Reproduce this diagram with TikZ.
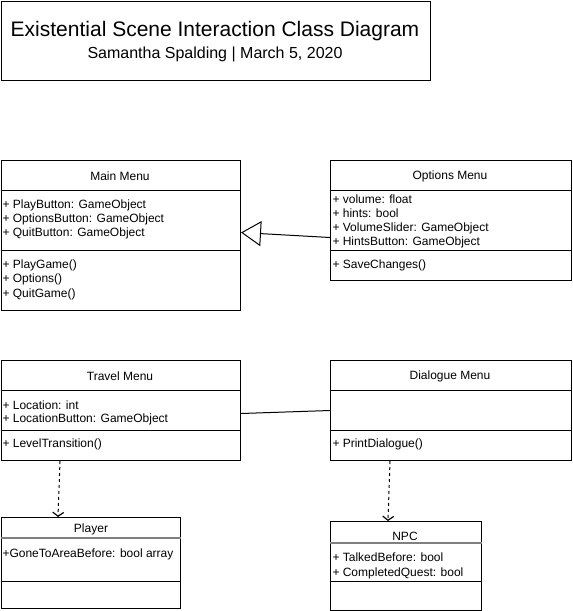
\documentclass[tikz,border=0pt]{standalone}
\usepackage{fontspec}
\setmainfont{Liberation Sans}
\usetikzlibrary{arrows.meta}
\definecolor{hdrgray}{RGB}{128,128,128}
\begin{document}
\begin{tikzpicture}[x=1pt,y=-1pt,line width=1pt,
  box/.style={draw, rectangle, inner sep=0pt, anchor=north west},
  lbl/.style={font=\fontsize{12}{14}\selectfont, inner sep=0pt, anchor=west, yshift=-1pt},
  ttl/.style={font=\fontsize{12}{14}\selectfont, inner sep=0pt, yshift=-1pt},
  dep/.style={dash pattern=on 3pt off 3pt, -{Straight Barb[length=4pt,width=11pt,line width=1.2pt]}},
  gen/.style={-{Triangle[open,length=20pt,width=25pt,fill=white]}},
  sepline/.style={draw},
  grayline/.style={draw=hdrgray, line width=1.6pt},
]
\useasboundingbox (0,0) rectangle (573,611);

% Title
\node[box, minimum width=429pt, minimum height=79pt] (title) at (1,1) {};
\node[inner sep=0pt, font=\fontsize{21}{25}\selectfont] (t1) at (215,31) {Existential Scene Interaction Class Diagram};
\node[inner sep=0pt, font=\fontsize{16}{19}\selectfont] (t2) at (215,54) {Samantha Spalding | March 5, 2020};

% Main Menu
\node[box, minimum width=239pt, minimum height=150pt] (main) at (1,160) {};
\draw[sepline] ([yshift=-30pt]main.north west) -- ([yshift=-30pt]main.north east);
\draw[sepline] ([yshift=-90pt]main.north west) -- ([yshift=-90pt]main.north east);
\node[ttl] (mainT) at (120,175) {Main Menu};
\node[lbl] (m1) at (2,204) {+ PlayButton: GameObject};
\node[lbl] (m2) at (2,218) {+ OptionsButton: GameObject};
\node[lbl] (m3) at (2,232) {+ QuitButton: GameObject};
\node[lbl] (m4) at (2,264) {+ PlayGame()};
\node[lbl] (m5) at (2,278) {+ Options()};
\node[lbl] (m6) at (2,293) {+ QuitGame()};

% Options Menu
\node[box, minimum width=241pt, minimum height=120pt] (opt) at (330,160) {};
\draw[sepline] ([yshift=-30pt]opt.north west) -- ([yshift=-30pt]opt.north east);
\draw[sepline] ([yshift=-90pt]opt.north west) -- ([yshift=-90pt]opt.north east);
\node[ttl] (optT) at (450,175) {Options Menu};
\node[lbl] (o1) at (332,198) {+ volume: float};
\node[lbl] (o2) at (332,212) {+ hints: bool};
\node[lbl] (o3) at (332,227) {+ VolumeSlider: GameObject};
\node[lbl] (o4) at (332,241) {+ HintsButton: GameObject};
\node[lbl] (o5) at (332,264) {+ SaveChanges()};

\draw[gen] ([yshift=-17pt]opt.west) -- ([yshift=3pt]main.east);

% Travel Menu
\node[box, minimum width=239pt, minimum height=100pt] (travel) at (1,360) {};
\draw[sepline] ([yshift=-30pt]travel.north west) -- ([yshift=-30pt]travel.north east);
\draw[sepline] ([yshift=-70pt]travel.north west) -- ([yshift=-70pt]travel.north east);
\node[ttl] (travelT) at (120,375) {Travel Menu};
\node[lbl] (t3) at (2,404) {+ Location: int};
\node[lbl] (t4) at (2,418) {+ LocationButton: GameObject};
\node[lbl] (t5) at (2,443) {+ LevelTransition()};

% Dialogue Menu
\node[box, minimum width=241pt, minimum height=100pt] (dia) at (330,360) {};
\draw[sepline] ([yshift=-30pt]dia.north west) -- ([yshift=-30pt]dia.north east);
\draw[sepline] ([yshift=-70pt]dia.north west) -- ([yshift=-70pt]dia.north east);
\node[ttl] (diaT) at (450,375) {Dialogue Menu};
\node[lbl] (d1) at (332,443) {+ PrintDialogue()};

\draw ([yshift=-3pt]travel.east) -- (dia.west);

% Player
\node[box, minimum width=179pt, minimum height=91pt] (player) at (1,517) {};
\draw[grayline] ([yshift=-21pt]player.north west) -- ([yshift=-21pt]player.north east);
\draw[sepline] ([yshift=-64pt]player.north west) -- ([yshift=-64pt]player.north east);
\node[ttl] (playerT) at (91,528) {Player};
\node[lbl] (p1) at (2,553) {+GoneToAreaBefore: bool array};

% NPC
\node[box, minimum width=151pt, minimum height=89pt] (npc) at (330,521) {};
\draw[grayline] ([yshift=-22pt]npc.north west) -- ([yshift=-22pt]npc.north east);
\draw[sepline] ([yshift=-60pt]npc.north west) -- ([yshift=-60pt]npc.north east);
\node[ttl] (npcT) at (405,535) {NPC};
\node[lbl] (n1) at (332,556) {+ TalkedBefore: bool};
\node[lbl] (n2) at (332,572) {+ CompletedQuest: bool};

% Dependencies
\draw[dep] ([xshift=59pt]travel.south west) -- ([xshift=57pt]player.north west);
\draw[dep] ([xshift=60pt]dia.south west) -- ([xshift=58pt]npc.north west);
\end{tikzpicture}
\end{document}
